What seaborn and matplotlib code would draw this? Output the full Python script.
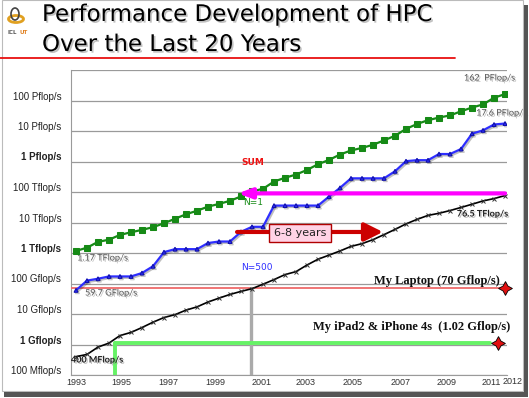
import numpy as np
import pandas as pd
import matplotlib
matplotlib.use("Agg")
import matplotlib.pyplot as plt
import matplotlib.patheffects as pe
from matplotlib.patches import Rectangle, Ellipse
import seaborn as sns

# -------------------------------------------------
# Data (Top500 lists, June 1993 .. November 2012), values in Gflop/s
# -------------------------------------------------
list_years = [1993.0, 1993.5, 1994.0, 1994.5, 1995.0, 1995.5, 1996.0, 1996.5,
              1997.0, 1997.5, 1998.0, 1998.5, 1999.0, 1999.5, 2000.0, 2000.5,
              2001.0, 2001.5, 2002.0, 2002.5, 2003.0, 2003.5, 2004.0, 2004.5,
              2005.0, 2005.5, 2006.0, 2006.5, 2007.0, 2007.5, 2008.0, 2008.5,
              2009.0, 2009.5, 2010.0, 2010.5, 2011.0, 2011.5, 2012.0, 2012.5]

sum_perf = [1170, 1493, 2317, 2732, 3923, 4780, 5741, 7009,
            9474, 13220, 18630, 24230, 33150, 40640, 51450, 71570,
            104500, 127400, 220000, 293000, 373000, 528000, 813000, 1127000,
            1690000, 2300000, 2790000, 3530000, 4920000, 6970000, 11700000, 16950000,
            22600000, 27600000, 32400000, 44200000, 58900000, 74200000, 123000000, 162000000]

n1_perf = [59.7, 124.5, 143.4, 170.4, 170.4, 170.4, 220.4, 368.2,
           1068, 1338, 1338, 1338, 2121, 2379, 2379, 4938,
           7226, 7226, 35860, 35860, 35860, 35860, 35860, 70720,
           136800, 280600, 280600, 280600, 280600, 478200, 1026000, 1105000,
           1105000, 1759000, 1759000, 2566000, 8162000, 10510000, 16324000, 17600000]

n500_perf = [0.4, 0.472, 0.822, 1.114, 1.964, 2.489, 3.604, 5.377,
             7.67, 9.513, 13.39, 17.12, 24.73, 33.1, 43.82, 55.09,
             67.78, 94.3, 134.3, 195.8, 245.1, 403.4, 624, 850.6,
             1166, 1646, 2026, 2737, 4005, 5929, 9000, 12640,
             17100, 20050, 24670, 31120, 39690, 50940, 60820, 76500]

laptop_perf = 70      # Gflop/s
ipad_perf = 1.15      # drawn level of the 1.02 Gflop/s line
laptop_year = 2000.94
ipad_year = 1994.77

y_ticks = [0.1, 1, 10, 100, 1e3, 1e4, 1e5, 1e6, 1e7, 1e8]
y_labels = ["100 Mflop/s", "1 Gflop/s", "10 Gflop/s", "100 Gflop/s", "1 Tflop/s",
            "10 Tflop/s", "100 Tflop/s", "1 Pflop/s", "10 Pflop/s", "100 Pflop/s"]
x_ticks = [1993.03, 1995.08, 1997.2, 1999.32, 2001.44, 2003.45, 2005.55, 2007.73, 2009.86, 2011.86]
x_labels = ["1993", "1995", "1997", "1999", "2001", "2003", "2005", "2007", "2009", "2011"]

df = pd.DataFrame({"year": list_years, "SUM": sum_perf, "N=1": n1_perf, "N=500": n500_perf})

# -------------------------------------------------
# Figure
# -------------------------------------------------
sns.set_style("white")
plt.rcParams["font.family"] = ["DejaVu Sans"]

fig = plt.figure(figsize=(5.29, 3.98), dpi=100)
W, H = 529, 398
ax = fig.add_axes([71 / W, 1 - 375 / H, (507 - 71) / W, (375 - 70) / H])

shadow_txt = [pe.withSimplePatchShadow(offset=(1, -1), shadow_rgbFace="#888888", alpha=0.5)]

sns.lineplot(data=df, x="year", y="SUM", ax=ax, color="#168A16", linewidth=1.6,
             marker="s", markersize=4.2, markeredgecolor="#168A16", zorder=5)
sns.lineplot(data=df, x="year", y="N=1", ax=ax, color="#2E2EFF", linewidth=1.6,
             marker="^", markersize=2.8, markeredgecolor="#1010AA", zorder=5,
             path_effects=[pe.SimpleLineShadow(offset=(1, -1), alpha=0.25), pe.Normal()])
sns.lineplot(data=df, x="year", y="N=500", ax=ax, color="black", linewidth=1.2,
             marker="x", markersize=3, markeredgecolor="#333333", markeredgewidth=0.7, zorder=5)

ax.set_yscale("log")
ax.set_xlim(1992.773, 2012.59)
ax.set_ylim(0.1, 1e9)
ax.minorticks_off()

# grid lines at every decade
for d in [0.1, 1, 10, 100, 1e3, 1e4, 1e5, 1e6, 1e7, 1e8, 1e9]:
    ax.axhline(d, color="#9A9A9A", linewidth=0.9, zorder=1)

for s in ["top", "right"]:
    ax.spines[s].set_visible(False)
ax.spines["left"].set_color("#9A9A9A")
ax.spines["bottom"].set_color("#9A9A9A")

ax.set_yticks(y_ticks)
ax.set_yticklabels(y_labels, fontsize=7, family="Liberation Sans", color="#222222")
ax.set_xticks(x_ticks)
ax.set_xticklabels(x_labels, fontsize=6.5, family="Liberation Sans", color="#333333")
ax.tick_params(length=0, axis="y", pad=7)
ax.tick_params(length=0, axis="x", pad=2.5)
up = matplotlib.transforms.ScaledTranslation(0, 5 / 100, fig.dpi_scale_trans)
for lab in ax.get_yticklabels():
    lab.set_transform(lab.get_transform() + up)
    if lab.get_text().startswith("1 "):
        lab.set_fontweight("bold")
ax.set_xlabel("")
ax.set_ylabel("")
ax.text(2012.86, 0.059, "2012", fontsize=6.5, family="Liberation Sans", color="#333333",
        ha="center", va="center", clip_on=False)

# laptop / iPad reference lines
ax.plot([1992.773, 2012.5], [laptop_perf, laptop_perf], color="#EE6A6A", linewidth=1.3, zorder=3)
ax.plot([laptop_year, laptop_year], [0.1, laptop_perf], color="#AAAAAA", linewidth=2.4, zorder=3)
ax.plot([ipad_year, 2011.82], [ipad_perf, ipad_perf], color="#66F266", linewidth=2.8, zorder=3)
ax.plot([ipad_year, ipad_year], [0.1, ipad_perf], color="#66F266", linewidth=2.8, zorder=3)
ax.plot([2012.5], [laptop_perf], marker=(4, 1, 0), markersize=10, markerfacecolor="#E01010",
        markeredgecolor="black", markeredgewidth=0.6, zorder=8, clip_on=False)
ax.plot([2012.18], [ipad_perf], marker=(4, 1, 0), markersize=10, markerfacecolor="#E01010",
        markeredgecolor="black", markeredgewidth=0.6, zorder=8, clip_on=False)

# arrows (drawn over the series)
ax.annotate("", xy=(2000.36, 9.0e4), xytext=(2012.5, 9.0e4),
            arrowprops=dict(arrowstyle="-|>,head_length=0.8,head_width=0.3", color="#FF00FF",
                            lw=3, shrinkA=0, shrinkB=0, mutation_scale=10), zorder=6)
ax.annotate("", xy=(2006.95, 4890), xytext=(2000.32, 4890),
            arrowprops=dict(arrowstyle="-|>,head_length=1.1,head_width=0.55", color="#CC0000",
                            lw=3, shrinkA=0, shrinkB=0, mutation_scale=10), zorder=6)
ax.text(2003.18, 4530, "6-8 years", fontsize=8, ha="center", va="center", color="#222222", zorder=7,
        bbox=dict(boxstyle="square,pad=0.4", fc="#FFD3E6", ec="#B00000", lw=1))

# series labels
ax.text(2001.05, 9.6e5, "SUM", fontsize=6.5, fontweight="bold", color="#EE1111", ha="center", va="center")
ax.text(2001.05, 4.7e4, "N=1", fontsize=6.5, color="#168A16", ha="center", va="center", zorder=7)
ax.text(2001.23, 347, "N=500", fontsize=6.5, color="#2E2EFF", ha="center", va="center")

# value labels
lbl = dict(family="Lato", fontsize=6.5, va="center", clip_on=False, path_effects=shadow_txt)
ax.text(2012.95, 5.47e8, "162  PFlop/s", ha="right", color="#555555", **lbl)
ax.text(2013.5, 3.89e7, "17.6 PFlop/s", ha="right", color="#555555", **lbl)
ax.text(2012.64, 1.9e4, "76.5 TFlop/s", ha="right", color="#222222", fontweight="bold", **lbl)
ax.text(1993.05, 686, "1.17 TFlop/s", ha="left", color="#555555", **lbl)
ax.text(1993.41, 48.8, "59.7 GFlop/s", ha="left", color="#555555", **lbl)
ax.text(1992.77, 0.31, "400 MFlop/s", ha="left", color="#222222", fontweight="bold", **lbl)

serif = dict(family="Liberation Serif", fontweight="bold", fontsize=9, color="#111111", va="center")
ax.text(2012.27, 123.6, "My Laptop (70 Gflop/s)", ha="right", **serif)
ax.text(2012.73, 3.83, "My iPad2 & iPhone 4s  (1.02 Gflop/s)", ha="right", **serif)

# -------------------------------------------------
# Slide decoration
# -------------------------------------------------
title_fx = [pe.withSimplePatchShadow(offset=(1.2, -1.2), shadow_rgbFace="#999999", alpha=0.6)]
fig.text(42 / W, 1 - 21 / H, "Performance Development of HPC", fontsize=16.5, va="baseline",
         color="black", path_effects=title_fx)
fig.text(42 / W, 1 - 51 / H, "Over the Last 20 Years", fontsize=16.5, va="baseline",
         color="black", path_effects=title_fx)
fig.add_artist(plt.Line2D([0, 455 / W], [1 - 57.5 / H, 1 - 57.5 / H], color="#E81010", linewidth=1.3))

# logo
fig.add_artist(Ellipse((16 / W, 1 - 19 / H), 15 / W, 7 / H, fill=False, ec="#E0A020", lw=2))
fig.add_artist(Ellipse((15 / W, 1 - 14 / H), 8 / W, 12 / H, fill=False, ec="#444444", lw=1.2))
fig.text(7 / W, 1 - 33 / H, "ICL", fontsize=4, fontweight="bold", color="#555555", va="center")
fig.text(19 / W, 1 - 33 / H, "UT", fontsize=4, fontweight="bold", color="#E08020", va="center")

# slide frame with shadow
fig.add_artist(Rectangle((2 / W, 1 - 391 / H), 521 / W, 391 / H, fill=False, ec="#BBBBBB", lw=0.8))
fig.add_artist(Rectangle((524 / W, 1 - 397 / H), 4 / W, 392 / H, fc="#555555", ec="none"))
fig.add_artist(Rectangle((4 / W, 1 - 397 / H), 524 / W, 5 / H, fc="#555555", ec="none"))

fig.savefig("out.png", dpi=100)
